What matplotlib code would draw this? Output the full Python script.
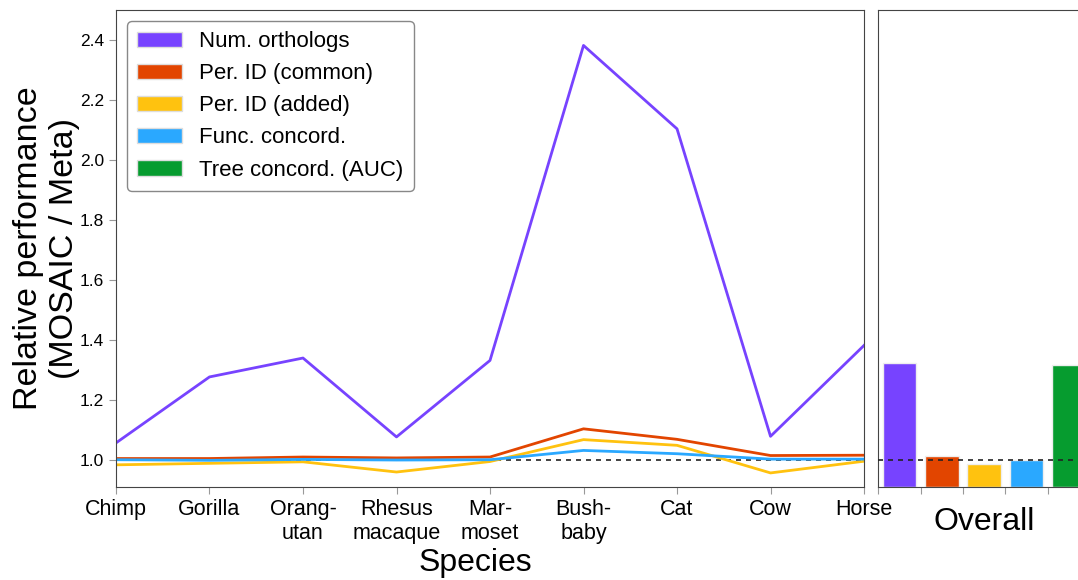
import numpy as np
import matplotlib
matplotlib.use('Agg')
import matplotlib.pyplot as plt
from matplotlib.patches import Patch

plt.rcParams['font.family'] = ['Liberation Sans', 'DejaVu Sans']

# species level values (MOSAIC / Meta)
species = ['Chimp', 'Gorilla', 'Orang-\nutan', 'Rhesus\nmacaque', 'Mar-\nmoset',
           'Bush-\nbaby', 'Cat', 'Cow', 'Horse']
num_orthologs = [1.057, 1.277, 1.340, 1.077, 1.332, 2.382, 2.104, 1.079, 1.382]
perid_common = [1.005, 1.005, 1.010, 1.007, 1.010, 1.104, 1.069, 1.015, 1.016]
perid_added = [0.984, 0.989, 0.994, 0.960, 0.995, 1.068, 1.049, 0.957, 0.996]
func_concord = [1.001, 0.999, 1.002, 1.000, 1.001, 1.032, 1.021, 1.003, 1.003]

# overall values
metrics = ['Num. orthologs', 'Per. ID (common)', 'Per. ID (added)',
           'Func. concord.', 'Tree concord. (AUC)']
overall = [1.325, 1.015, 0.986, 1.001, 1.316]

colors = ['#7743ff', '#e24500', '#ffc20f', '#2aa8ff', '#069c2f']

fig = plt.figure(figsize=(10.78, 5.8), dpi=100)
ax = fig.add_axes([0.1076, 0.1603, 0.6939, 0.8224])
ax2 = fig.add_axes([0.8148, 0.1603, 0.1964, 0.8224])

x = np.arange(len(species))
series = [num_orthologs, perid_common, perid_added, func_concord]
ax.axhline(1.0, color='#222222', ls=(0, (3, 3)), lw=1.2, zorder=1)
for s, c in zip(series, colors):
    ax.plot(x, s, color=c, lw=2, zorder=2)

ax.set_xlim(0, len(species) - 1)
ax.set_ylim(0.91, 2.5)
ax.set_xticks(x)
ax.set_xticklabels(species, fontsize=15.5)
yt = np.arange(1.0, 2.41, 0.2)
ax.set_yticks(yt)
ax.set_yticklabels(['%.1f' % v for v in yt], fontsize=12.5)
ax.tick_params(color='#999999', length=5)
ax.set_xlabel('Species', fontsize=23)
# label sits a bit left of the axes centre in the original
ax.xaxis.set_label_coords(0.4806, -0.128, transform=ax.transAxes)
ax.xaxis.label.set_va('top')
ax.set_ylabel('Relative performance\n(MOSAIC / Meta)', fontsize=24.5, labelpad=0)
for sp in ax.spines.values():
    sp.set_color('#444444')

handles = [Patch(facecolor=c, edgecolor='#dddddd', label=m) for c, m in zip(colors, metrics)]
leg = ax.legend(handles=handles, loc='upper left', fontsize=16, handlelength=2.0,
                handleheight=0.7, borderpad=0.45, labelspacing=0.5, handletextpad=0.8,
                borderaxespad=0.5, fancybox=True, framealpha=1)
leg.get_frame().set_edgecolor('#888888')

# overall panel
bx = np.arange(len(overall))
ax2.axhline(1.0, color='#222222', ls=(0, (3, 3)), lw=1.2, zorder=3)
ax2.bar(bx, np.array(overall) - 0.91, bottom=0.91, width=0.8, color=colors,
        edgecolor='#eeeeee', linewidth=1, zorder=2)
ax2.set_xlim(-0.5, len(overall) - 0.5)
ax2.set_ylim(0.91, 2.5)
ax2.set_xticks(bx - 0.5)
ax2.set_xticklabels([])
ax2.set_yticks([])
ax2.tick_params(color='#999999', length=5)
ax2.set_xlabel('Overall', fontsize=23, labelpad=6)
for sp in ax2.spines.values():
    sp.set_color('#444444')

fig.savefig('out.png', dpi=100)
